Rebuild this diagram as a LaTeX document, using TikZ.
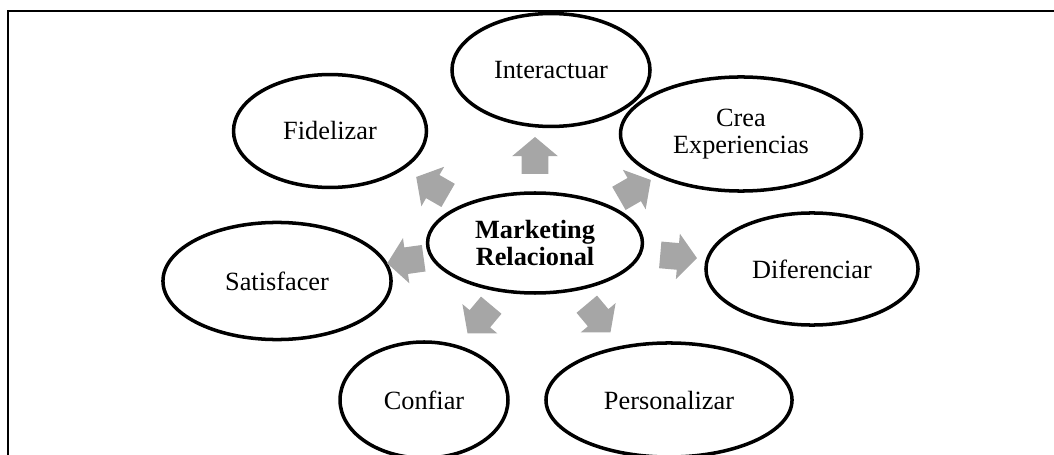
\documentclass[tikz,border=0pt]{standalone}
\usepackage{fontspec}
\setmainfont{Liberation Serif}
\usetikzlibrary{shapes.geometric,shapes.arrows}
\definecolor{flechagris}{HTML}{A6A6A6}
\begin{document}
\begin{tikzpicture}[x=0.456pt, y=-0.456pt,
                    idea/.style={draw, ellipse, line width=1.6pt, inner sep=0pt, align=center,
                                 font=\fontsize{12}{12.4}\selectfont},
                    flecha/.style={single arrow, fill=flechagris, draw=none, inner xsep=0pt,
                                   inner ysep=5.9pt, minimum height=16.8pt,
                                   single arrow head extend=4.3pt, single arrow tip angle=100}
                    ]
                    \useasboundingbox (0,0) rectangle (1054,455);
                    \draw[line width=1pt] (1070,11) -- (8,11) -- (8,470);

                    \node[idea, minimum width=98pt, minimum height=45.6pt] (mr) at (535,243) {\textbf{Marketing}\\\textbf{Relacional}};
                    \node[idea, minimum width=90.3pt, minimum height=51.5pt] (int) at (551,70) {Interactuar};
                    \node[idea, minimum width=109.9pt, minimum height=52pt] (crea) at (741,134) {Crea\\Experiencias};
                    \node[idea, minimum width=88pt, minimum height=51.5pt] (fid) at (330,131) {Fidelizar};
                    \node[idea, minimum width=104pt, minimum height=53.4pt] (sat) at (277,281) {Satisfacer};
                    \node[idea, minimum width=96.7pt, minimum height=51.1pt] (dif) at (812,269) {Diferenciar};
                    \node[idea, minimum width=76.6pt, minimum height=52.9pt] (conf) at (424,400) {Confiar};
                    \node[idea, minimum width=112.2pt, minimum height=52pt] (pers) at (669,400) {Personalizar};

                    \foreach \x/\y/\a [count=\n] in {535/161/90, 630/192/30, 437/189/150, 411/260/188,
                                                    673/256/-5, 483/315/230, 595/314/310}{
                        \node[flecha, rotate=\a] (f\n) at (\x,\y) {};
                    }
                \end{tikzpicture}
\end{document}
